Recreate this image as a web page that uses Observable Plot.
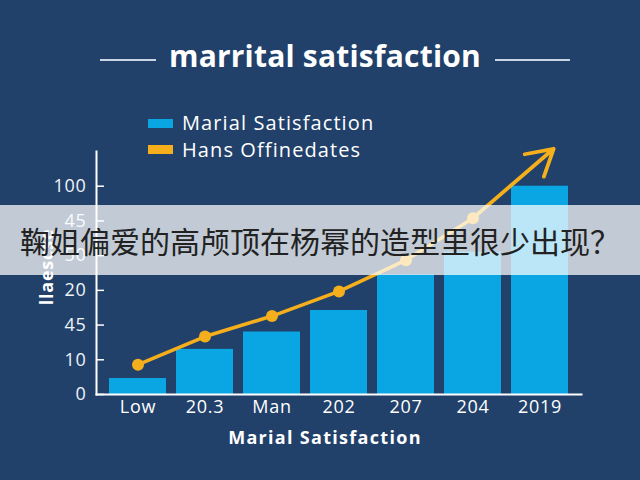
<!DOCTYPE html>
<html>
<head>
<meta charset="utf-8">
<script src="https://cdn.jsdelivr.net/npm/d3@7"></script>
<script src="https://cdn.jsdelivr.net/npm/@observablehq/plot@0.6"></script>
<style>
  html, body { margin: 0; padding: 0; }
  body { width: 640px; height: 480px; background: #21416a; position: relative; overflow: hidden; font-family: "Open Sans", sans-serif; color: #fff; }
  .abs { position: absolute; }
  #title { left: 0; width: 650px; top: 36px; text-align: center; font-size: 30px; font-weight: 700; line-height: 40px; letter-spacing: 0.2px; }
  .tline { height: 2px; background: #c9d5e5; top: 59px; }
  .sw { width: 25px; height: 9px; }
  .lg { font-size: 20px; line-height: 24px; white-space: nowrap; letter-spacing: 1.1px; }
  #xlabel { left: 0; width: 650px; top: 425px; text-align: center; font-size: 18px; font-weight: 700; line-height: 24px; letter-spacing: 1.3px; }
  #ylabel { left: 46px; top: 267px; font-size: 18px; font-weight: 700; white-space: nowrap; transform: translate(-50%, -50%) rotate(-90deg); line-height: 22px; letter-spacing: 0.8px; }
  #band { left: 0; top: 205px; width: 640px; height: 70px; background: rgba(255,255,255,0.72); }
  #cap { left: 20px; top: 205px; height: 70px; line-height: 70px; font-family: "Noto Sans CJK SC", sans-serif; font-size: 30px; color: #222; white-space: nowrap; }
  #chart { left: 0; top: 0; }
</style>
</head>
<body>
<div id="chart" class="abs"></div>
<div id="title" class="abs">marrital satisfaction</div>
<div class="abs tline" style="left:100px;width:56px"></div>
<div class="abs tline" style="left:495px;width:75px"></div>
<div class="abs sw" style="left:148px;top:119px;background:#0aa6e4"></div>
<div class="abs lg" style="left:182px;top:111px">Marial Satisfaction</div>
<div class="abs sw" style="left:148px;top:145px;background:#f5af1c"></div>
<div class="abs lg" style="left:182px;top:138px">Hans Offinedates</div>
<div id="ylabel" class="abs">llaescse</div>
<div id="xlabel" class="abs">Marial Satisfaction</div>
<div id="band" class="abs"></div>
<div id="cap" class="abs">鞠姐偏爱的高颅顶在杨幂的造型里很少出现？</div>
<script>
// Data (y in tick-step units; tick labels are as printed)
const categories = ["Low", "20.3", "Man", "202", "207", "204", "2019"];
const barValues = [0.46, 1.3, 1.8, 2.42, 3.45, 4.1, 6.0];
const lineCategories = ["Low", "20.3", "Man", "202", "207", "204"];
const lineValues = [0.86, 1.67, 2.26, 2.97, 3.87, 5.08];
const arrowEndCategory = "2019";
const arrowEndValue = 6.74;
const yTickPositions = [0, 1, 2, 3, 4, 5, 6];
const yTickLabels = ["0", "10", "45", "20", "50", "45", "100"];

const bars = categories.map((c, i) => ({cat: c, v: barValues[i]}));
const pts = lineCategories.map((c, i) => ({cat: c, v: lineValues[i]}));
const arrowSeg = [{x1: lineCategories[lineCategories.length - 1], y1: lineValues[lineValues.length - 1], x2: arrowEndCategory, y2: arrowEndValue}];

const BAR = "#0aa6e4", LINE = "#f5af1c";

const chart = Plot.plot({
  width: 640,
  height: 480,
  marginLeft: 96,
  marginRight: 59,
  marginTop: 151,
  marginBottom: 86,
  style: {background: "transparent", color: "#ffffff", fontFamily: "Open Sans", fontSize: "18px", letterSpacing: "0.7px"},
  x: {domain: categories, padding: 0.145, label: null},
  y: {domain: [0, 7], label: null},
  marks: [
    Plot.barY(bars, {x: "cat", y: "v", fill: BAR}),
    Plot.line(pts, {x: "cat", y: "v", stroke: LINE, strokeWidth: 3.5}),
    Plot.arrow(arrowSeg, {x1: "x1", y1: "y1", x2: "x2", y2: "y2", stroke: LINE, strokeWidth: 3.8, headLength: 16, insetEnd: -18}),
    Plot.dot(pts, {x: "cat", y: "v", r: 6, fill: LINE}),
    Plot.axisX({tickSize: 0, tickPadding: 6, fill: "#ffffff"}),
    Plot.axisY({ticks: yTickPositions, tickFormat: i => yTickLabels[i], tickSize: 0, tickPadding: 10, fill: "#eef3f8"}),
    Plot.axisY({ticks: yTickPositions, tickFormat: () => "", tickSize: 8, dx: 8, stroke: "#ffffff", strokeWidth: 1.5}),
    Plot.frame({anchor: "left", stroke: "#ffffff", strokeWidth: 2}),
    Plot.frame({anchor: "bottom", stroke: "#ffffff", strokeWidth: 2})
  ]
});
document.getElementById("chart").appendChild(chart);
</script>
</body>
</html>
